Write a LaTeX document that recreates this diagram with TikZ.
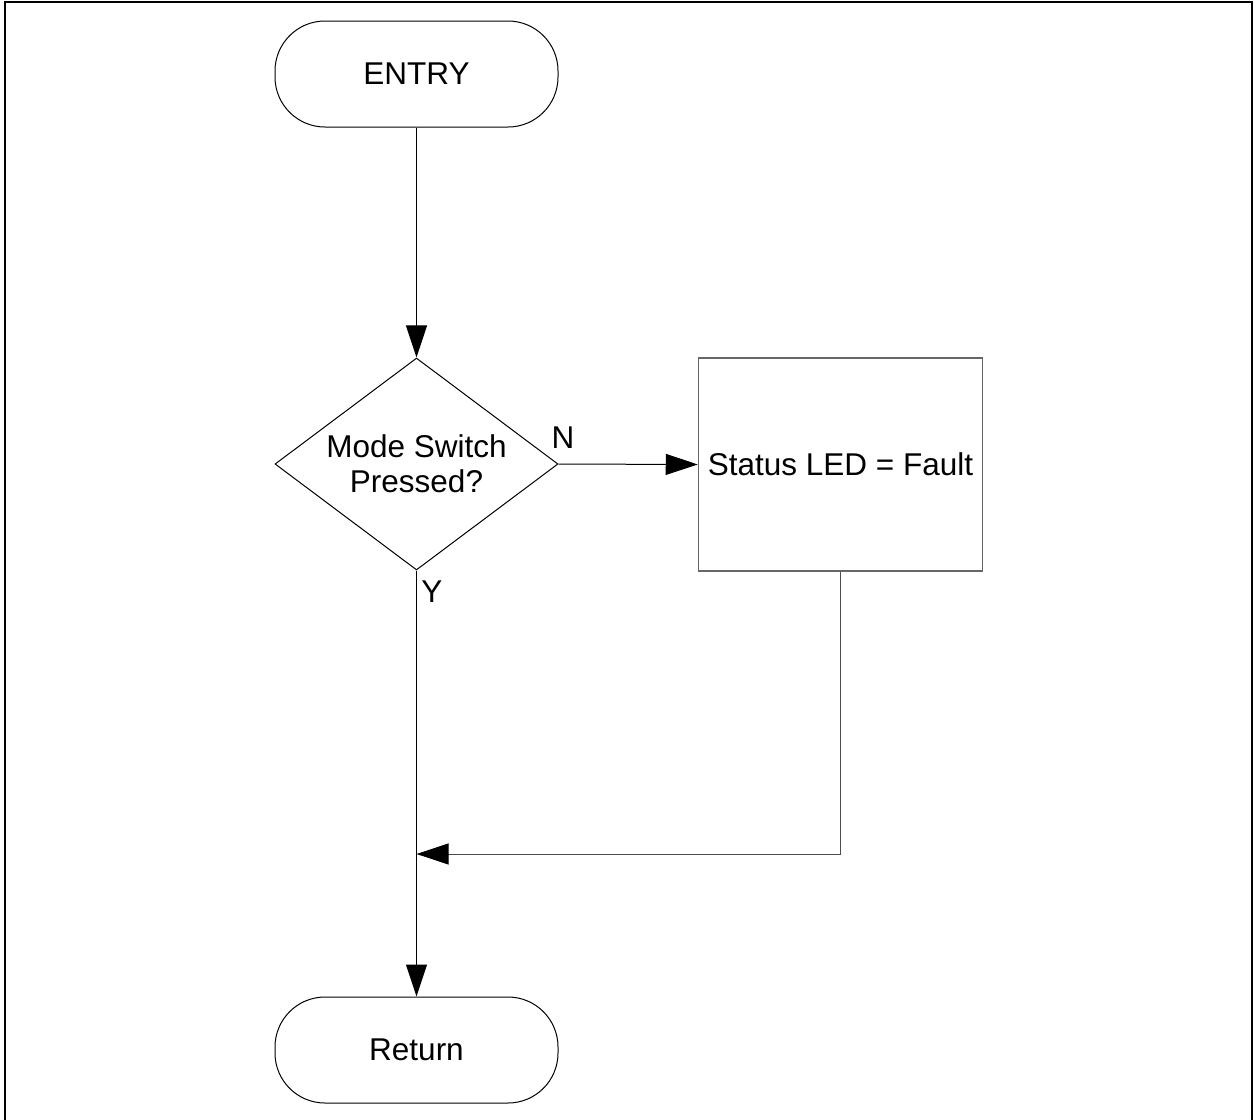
\documentclass[tikz,border=0pt]{standalone}
\usepackage{fontspec}
\setmainfont{Liberation Sans}
\usetikzlibrary{shapes.geometric,arrows.meta}
\begin{document}
\begin{tikzpicture}[x=1pt,y=-1pt,
 txt/.style={font=\fontsize{31.5}{35}\selectfont},
 term/.style={draw,line width=1pt,rounded corners=50pt,minimum width=283pt,minimum height=106pt,inner sep=0pt,txt},
 decbox/.style={draw,diamond,aspect=1.335,minimum width=283pt,minimum height=212pt,inner sep=0pt,align=center,txt,line width=1pt},
 proc/.style={draw=black!60,line width=1.5pt,minimum width=284pt,minimum height=213pt,inner sep=0pt,txt},
 arr/.style={line width=1pt,-{Triangle[length=32pt,width=21pt,color=black]}},
 lab/.style={txt,inner sep=0pt}]
\useasboundingbox (0,0) rectangle (1254,1120);
\draw[line width=2.5pt] (5,1125) -- (5,2) -- (1252,2) -- (1252,1125);
\node[term] (entry) at (416.5,74) {ENTRY};
\node[decbox] (q) at (416.5,464) {Mode Switch\\Pressed?};
\node[proc] (st) at (840.5,464.5) {Status LED = Fault};
\node[term] (ret) at (416.5,1050) {Return};
\node[lab] (n) at (563,438) {N};
\node[lab] (y) at (432,592) {Y};
\coordinate (m) at (416.5,854);
\draw[arr] (entry) -- (q);
\draw[arr] (q.east) -- (st.west);
\draw[arr,draw=black!70] (st.south) |- (m);
\draw[arr] (q.south) -- (ret.north);
\end{tikzpicture}
\end{document}
